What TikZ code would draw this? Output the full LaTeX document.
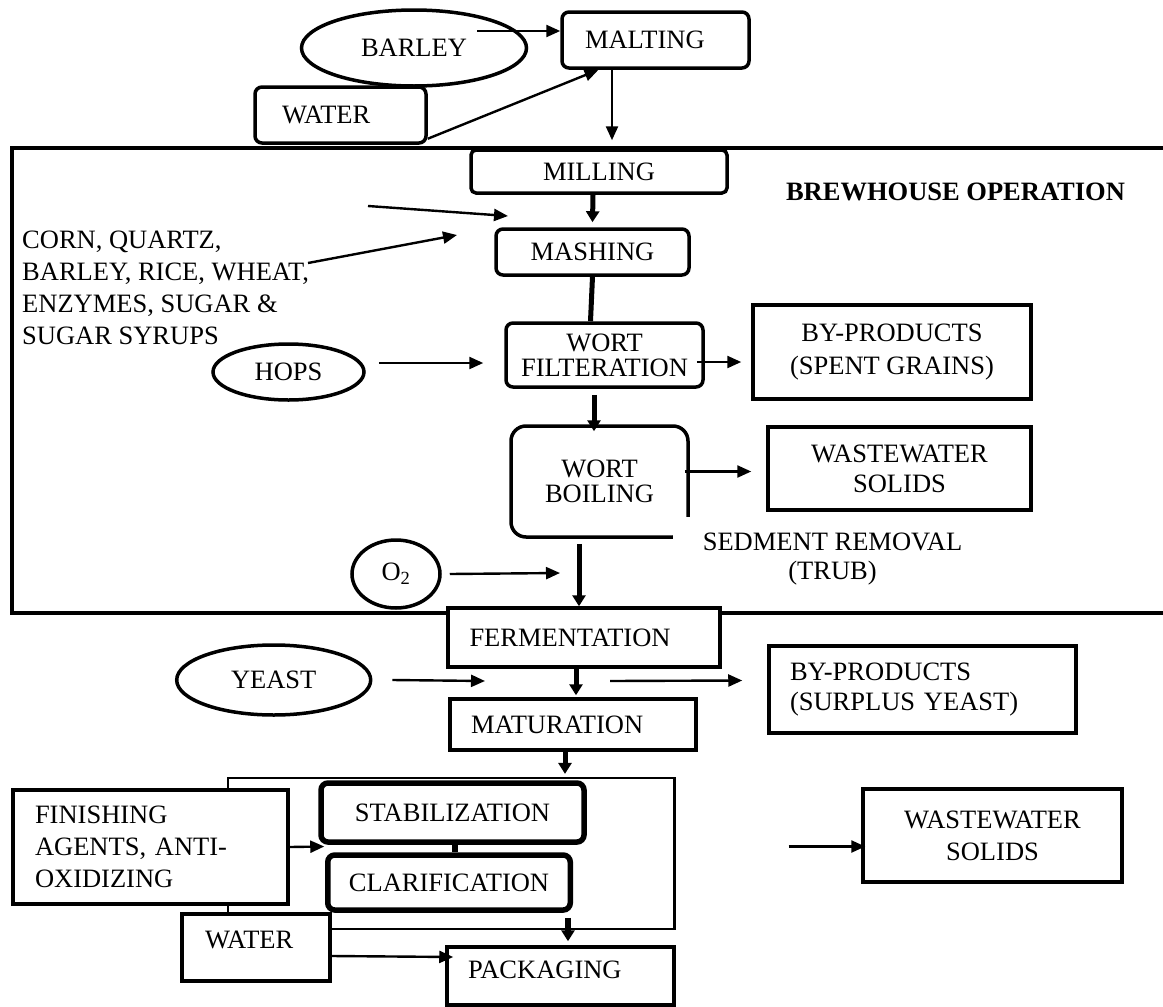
\documentclass[tikz,border=0pt]{standalone}
\usepackage{fontspec}
\setmainfont{Liberation Serif}
\usepackage{tikz}
\usetikzlibrary{arrows.meta,shapes}
\newcommand{\flowfont}[1]{\fontsize{26.5}{#1}\selectfont}
\tikzstyle{sbox}=[rectangle,draw,line width=3.5pt,fill=white,inner ysep=0pt]
\tikzstyle{pbox}=[sbox,rounded corners=7pt]
\tikzstyle{tbox}=[pbox,line width=5.5pt]
\tikzstyle{input}=[ellipse,draw,line width=3.5pt,fill=white,inner sep=0pt]
\tikzstyle{arrow}=[-{Triangle[length=14pt,width=12pt]},line width=2.4pt]
\tikzstyle{heavy}=[-{Triangle[length=11pt,width=13pt]},line width=5pt]

\begin{document}
\begin{tikzpicture}[x=1pt,y=-1pt,font=\flowfont{32}]

	\useasboundingbox (0,0) rectangle (1163,1007);
	\draw[line width=4.5pt] (12,148) rectangle (1175,613);

	\node[input,minimum width=225pt,minimum height=76pt] (bar) at (414,48) {BARLEY};
	\node[pbox,minimum height=56pt,text width=141pt,inner xsep=23pt,align=left] (mal) at (655.5,40) {MALTING};
	\node[pbox,minimum height=56pt,text width=117pt,inner xsep=27pt,align=left] (wat) at (340.5,115) {WATER};
	\node[pbox,rounded corners=5pt,minimum width=256pt,minimum height=43pt] (mil) at (599,171.5) {MILLING};
	\node[pbox,minimum width=193pt,minimum height=46pt] (mash) at (592.5,252) {MASHING};
	\node[pbox,minimum width=197pt,minimum height=64pt,align=center,font=\flowfont{25}] (filt) at (604.5,355) {WORT\\FILTERATION};
	\node[sbox,minimum width=278pt,minimum height=94pt,align=center,font=\flowfont{33}] (bp1) at (892,352) {BY-PRODUCTS\\(SPENT GRAINS)};
	\node[pbox,rounded corners=15pt,minimum width=177pt,minimum height=111pt,align=center,font=\flowfont{25}] (boil) at (599.5,481.5) {WORT\\BOILING};
	\node[sbox,minimum width=263pt,minimum height=83pt,align=center,font=\flowfont{30}] (ww1) at (899.5,468.5) {WASTEWATER\\SOLIDS};
	\node[fill=white,inner xsep=30pt,inner ysep=16pt,align=center,font=\flowfont{29}] (sed) at (832.5,559.5) {SEDMENT REMOVAL\\(TRUB)};
	\node[input,minimum width=151pt,minimum height=56pt] (hops) at (288.5,372) {HOPS};
	\node[input,minimum width=88pt,minimum height=68pt] (oxy) at (396,574) {O\textsubscript{2}};
	\node[anchor=north west,inner sep=0pt,align=left] (corn) at (22,231) {CORN, QUARTZ,\\BARLEY, RICE, WHEAT,\\ENZYMES, SUGAR \&\\SUGAR SYRUPS};
	\node[font=\flowfont{32}\bfseries] (brew) at (955.5,192) {BREWHOUSE OPERATION};

	\node[sbox,minimum height=59pt,text width=229pt,inner xsep=21.5pt,align=left] (ferm) at (584,637.5) {FERMENTATION};
	\node[input,minimum width=194pt,minimum height=70pt] (yeast) at (273.7,680) {YEAST};
	\node[sbox,minimum height=87pt,text width=265pt,inner xsep=21pt,align=left,font=\flowfont{30}] (bp2) at (922.5,689.5) {BY-PRODUCTS\\(SURPLUS YEAST)};
	\node[sbox,minimum height=51pt,text width=204pt,inner xsep=21pt,align=left] (mat) at (573,724.5) {MATURATION};
	\node[draw,line width=2.2pt,minimum width=446.5pt,minimum height=151pt] (frm) at (451.25,853.5) {};
	\node[tbox,minimum width=263pt,minimum height=59pt] (stab) at (452.5,812.5) {STABILIZATION};
	\node[tbox,minimum width=242.5pt,minimum height=55pt] (clar) at (449,882.5) {CLARIFICATION};
	\node[sbox,minimum height=114pt,text width=231pt,inner xsep=22pt,align=left] (fin) at (150.5,847) {FINISHING\\AGENTS, ANTI-\\OXIDIZING};
	\node[sbox,minimum height=67pt,text width=102pt,inner xsep=23pt,text depth=15pt,align=left] (wat2) at (256,947.5) {WATER};
	\node[sbox,minimum height=58pt,text width=185pt,inner xsep=21pt,text depth=12pt,align=left] (pack) at (560.5,976) {PACKAGING};
	\node[sbox,minimum width=259pt,minimum height=93pt,align=center] (ww2) at (992.5,835.5) {WASTEWATER\\SOLIDS};

	\coordinate (c1) at (368,206);
	\coordinate (c1e) at (508,216);
	\coordinate (c2) at (308,263);
	\coordinate (c2e) at (457,235);
	\coordinate (oxye) at (560,573);
	\coordinate (yeaste) at (485,681);
	\coordinate (yst) at (610,681);
	\coordinate (wst) at (788.5,846.5);

	\draw[arrow] ([xshift=63pt,yshift=17pt]bar.center) -- ([yshift=9pt]mal.west);
	\draw[arrow] ([yshift=6pt]wat.south east) -- ([xshift=-57pt]mal.south);
	\draw[arrow] ([xshift=-43.5pt]mal.south) -- ([xshift=13pt,yshift=8pt]mil.north);
	\draw[heavy] ([xshift=-6pt]mil.south) -- ([yshift=5pt]mash.north);
	\draw[arrow] (c1) -- (c1e);
	\draw[arrow] (c2) -- (c2e);
	\draw[line width=5pt] (mash.south) -- ([xshift=-14pt]filt.north);
	\draw[arrow] ([xshift=13pt,yshift=9pt]hops.east) -- ([xshift=-21pt,yshift=-8pt]filt.west);
	\draw[arrow] ([xshift=-8pt,yshift=-7pt]filt.east) -- ([xshift=-10pt,yshift=-10pt]bp1.west);
	\draw[heavy] ([xshift=-10.5pt,yshift=-6pt]filt.south) -- ([xshift=-5.5pt,yshift=-7pt]boil.north);
	\draw[arrow] ([xshift=-5pt,yshift=10pt]boil.east) -- ([xshift=-15pt,yshift=-3pt]ww1.west);
	\draw[heavy] ([xshift=-20.5pt,yshift=-5pt]boil.south) -- ([xshift=-5pt]ferm.north);
	\draw[arrow] ([xshift=8pt]oxy.east) -- (oxye);
	\draw[arrow] ([xshift=20pt]yeast.east) -- (yeaste);
	\draw[heavy] ([xshift=-8pt]ferm.south) -- ([xshift=3pt,yshift=2pt]mat.north);
	\draw[arrow] (yst) -- ([xshift=-25pt,yshift=9pt]bp2.west);
	\draw[heavy] ([xshift=-8pt]mat.south) -- ([xshift=113.75pt,yshift=3pt]frm.north);
	\draw[line width=5.5pt] ([xshift=2.5pt]stab.south) -- ([xshift=6pt]clar.north);
	\draw[arrow] (fin.east) -- ([xshift=6pt,yshift=-34pt]stab.west);
	\draw[heavy,line width=6.5pt] ([xshift=119pt,yshift=-5pt]clar.south) -- ([xshift=7.5pt,yshift=4pt]pack.north);
	\draw[arrow] ([yshift=-8.5pt]wat2.east) -- ([xshift=8pt,yshift=19pt]pack.west);
	\draw[arrow] (wst) -- ([xshift=4pt,yshift=-11pt]ww2.west);

\end{tikzpicture}
\end{document}
